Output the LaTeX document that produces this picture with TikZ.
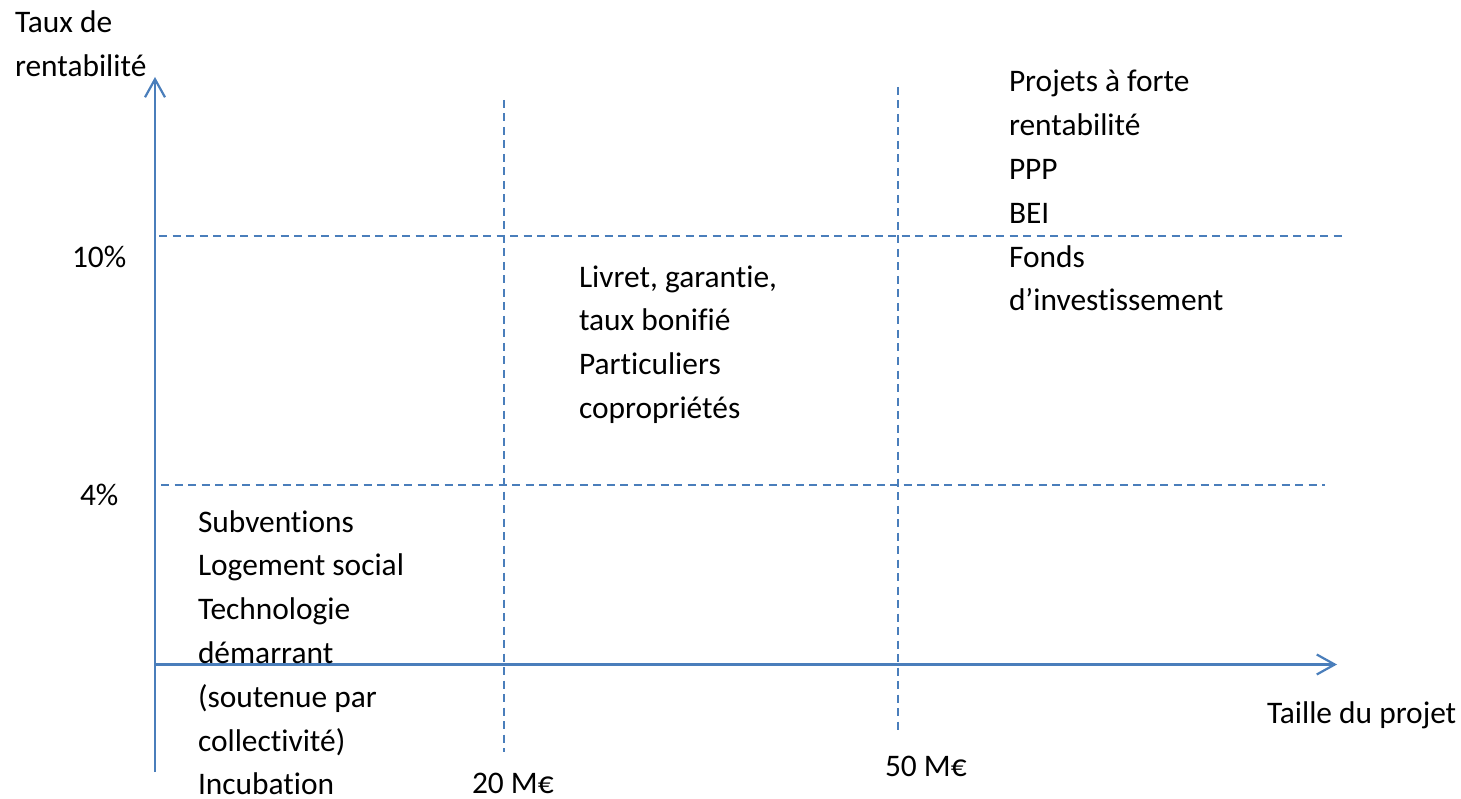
\documentclass[tikz,border=0pt]{standalone}
\usepackage{fontspec}
\setmainfont{Carlito}[Ligatures={NoCommon}]
\usetikzlibrary{arrows.meta}
\definecolor{axisblue}{HTML}{4A7EBB}
\begin{document}
\begin{tikzpicture}[x=1pt,y=-1pt,
  axisline/.style={draw=axisblue,line width=2.4pt,-{Straight Barb[length=18pt,width=20pt,line width=2.2pt]}},
  gridline/.style={draw=axisblue,line width=1.7pt,dash pattern=on 8pt off 5.5pt},
  lbl/.style={anchor=base west,inner sep=0pt,outer sep=0pt,align=left,
    font=\fontsize{31.4}{43.8}\selectfont,text=black}]
  \useasboundingbox (0,0) rectangle (1461,799);

  % axes
  \coordinate (origin) at (155,772);
  \coordinate (ytip) at (155,77);
  \coordinate (xstart) at (155,664.5);
  \coordinate (xtip) at (1337,664.5);
  \draw[axisline] (origin) -- (ytip);
  \draw[axisline] (xstart) -- (xtip);

  % threshold lines
  \coordinate (t10a) at (159,236);
  \coordinate (t10b) at (1343,236);
  \coordinate (t4a) at (161,485);
  \coordinate (t4b) at (1325,485);
  \coordinate (s20a) at (504,100);
  \coordinate (s20b) at (504,752);
  \coordinate (s50a) at (898,87);
  \coordinate (s50b) at (898,733);
  \draw[gridline] (t10a) -- (t10b);
  \draw[gridline] (t4a) -- (t4b);
  \draw[gridline] (s20a) -- (s20b);
  \draw[gridline] (s50a) -- (s50b);

  % axis titles and tick labels (multi-line nodes are placed by their last baseline)
  \node[lbl] (ytitle) at (15,76.8) {Taux de\\rentabilité};
  \node[lbl] (xtitle) at (1267,723) {Taille du projet};
  \node[lbl] (p10) at (72,268) {10\%};
  \node[lbl] (p4) at (80,505) {4\%};
  \node[lbl] (m20) at (472,793) {20 M€};
  \node[lbl] (m50) at (885,776) {50 M€};

  % zone contents
  \node[lbl] (zlow) at (198,794.8) {Subventions\\Logement social\\Technologie\\démarrant\\(soutenue par\\collectivité)\\Incubation};
  \node[lbl] (zmid) at (579,418.4) {Livret, garantie,\\taux bonifié\\Particuliers\\copropriétés};
  \node[lbl] (zhigh) at (1009,311) {Projets à forte\\rentabilité\\PPP\\BEI\\Fonds\\d’investissement};
\end{tikzpicture}
\end{document}
